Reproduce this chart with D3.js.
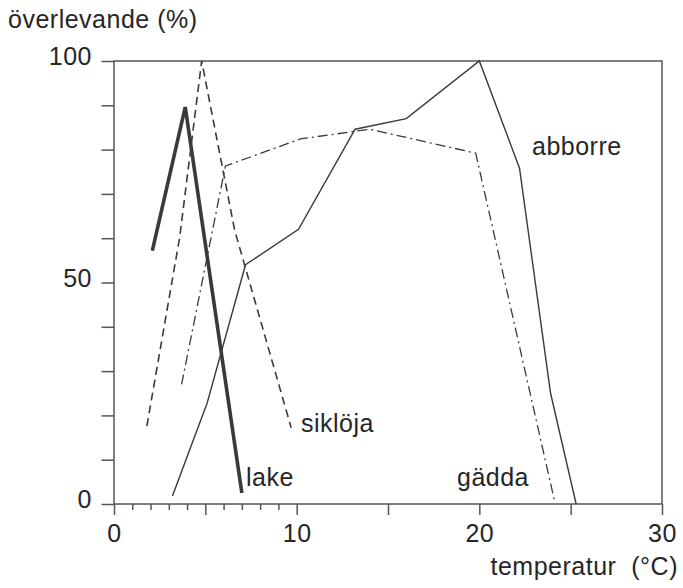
<!DOCTYPE html>
<html>
<head>
<meta charset="utf-8">
<script src="https://cdn.jsdelivr.net/npm/d3@7"></script>
<style>
  body { margin: 0; background: #fff; }
  svg { display: block; font-family: "Liberation Sans", Arial, sans-serif; }
  text { fill: #262626; letter-spacing: 0.5px; }
</style>
</head>
<body>
<svg id="chart" width="683" height="588"></svg>
<script>
// temperature (°C) / survival (%)
const abborre = [[3.2, 1.8], [5.1, 22.8], [7.2, 54], [10.1, 62], [13.2, 84.6], [16, 87], [20, 100], [22.2, 75.8], [23.9, 25], [25.3, 0]];
const gadda = [[3.7, 27], [6.1, 76.3], [10.2, 82.4], [14, 84.6], [19.8, 79.2], [24.1, 1]];
const sikloja = [[1.8, 17.6], [3.6, 60.3], [4.8, 100], [6.6, 61.9], [9.7, 17.2]];
const lake = [[2.1, 57.2], [3.9, 89.6], [7.0, 2.5]];

const xTicks = [0, 1, 2, 3, 4, 5, 6, 7, 8, 9, 10, 15, 20, 25, 30];
const xLabels = [0, 10, 20, 30];
const yTicks = [0, 10, 20, 30, 40, 50, 60, 70, 80, 90, 100];
const yLabels = [0, 50, 100];

const series = [
  { name: "abborre", data: abborre, width: 1.4, dash: null, label: [532, 155] },
  { name: "gädda", data: gadda, width: 1.3, dash: "10 4 2 4", label: [457, 486] },
  { name: "siklöja", data: sikloja, width: 1.6, dash: "8 5", label: [301, 432] },
  { name: "lake", data: lake, width: 3.6, dash: null, label: [246, 486] },
];

const svg = d3.select("#chart");
const x = d3.scaleLinear().domain([0, 30]).range([114, 662]);
const y = d3.scaleLinear().domain([0, 100]).range([504, 61]);
const ink = "#3a3a3a";

// frame
svg.append("rect")
  .attr("x", x(0)).attr("y", y(100))
  .attr("width", x(30) - x(0)).attr("height", y(0) - y(100))
  .attr("fill", "none").attr("stroke", "#555").attr("stroke-width", 1.5);

// x axis: short ticks at each degree, long at multiples of 5
const xAxis = svg.append("g")
  .attr("transform", `translate(0,${y(0)})`)
  .call(d3.axisBottom(x).tickValues(xTicks).tickSizeOuter(0)
    .tickFormat((d) => (xLabels.includes(d) ? d : "")));
xAxis.select(".domain").remove();
xAxis.selectAll(".tick line")
  .attr("y2", (d) => (d % 5 === 0 ? 11 : 6))
  .attr("stroke", "#555").attr("stroke-width", 1.5);
xAxis.selectAll(".tick text")
  .attr("y", 20).attr("dy", "0.71em")
  .attr("font-size", 25).attr("font-family", null).attr("fill", null);

// y axis
const yAxis = svg.append("g")
  .attr("transform", `translate(${x(0)},0)`)
  .call(d3.axisLeft(y).tickValues(yTicks).tickSize(12.5).tickSizeOuter(0)
    .tickFormat((d) => (yLabels.includes(d) ? d : "")));
yAxis.select(".domain").remove();
yAxis.selectAll(".tick line").attr("stroke", "#555").attr("stroke-width", 1.5);
yAxis.selectAll(".tick text")
  .attr("x", -22).attr("dy", "0.15em")
  .attr("font-size", 25).attr("font-family", null).attr("fill", null);

// curves
const line = d3.line().x((d) => x(d[0])).y((d) => y(d[1]));
svg.append("g").selectAll("path")
  .data(series)
  .join("path")
  .attr("d", (d) => line(d.data))
  .attr("fill", "none")
  .attr("stroke", ink)
  .attr("stroke-width", (d) => d.width)
  .attr("stroke-dasharray", (d) => d.dash)
  .attr("stroke-linejoin", "miter");

svg.append("g").selectAll("text")
  .data(series)
  .join("text")
  .attr("x", (d) => d.label[0])
  .attr("y", (d) => d.label[1])
  .attr("font-size", 25)
  .text((d) => d.name);

// axis titles
svg.append("text").attr("x", 8).attr("y", 28).attr("font-size", 25).text("överlevande (%)");
svg.append("text").attr("x", 678).attr("y", 575).attr("text-anchor", "end")
  .attr("font-size", 25).attr("xml:space", "preserve").style("white-space", "pre")
  .text("temperatur  (°C)");
</script>
</body>
</html>
